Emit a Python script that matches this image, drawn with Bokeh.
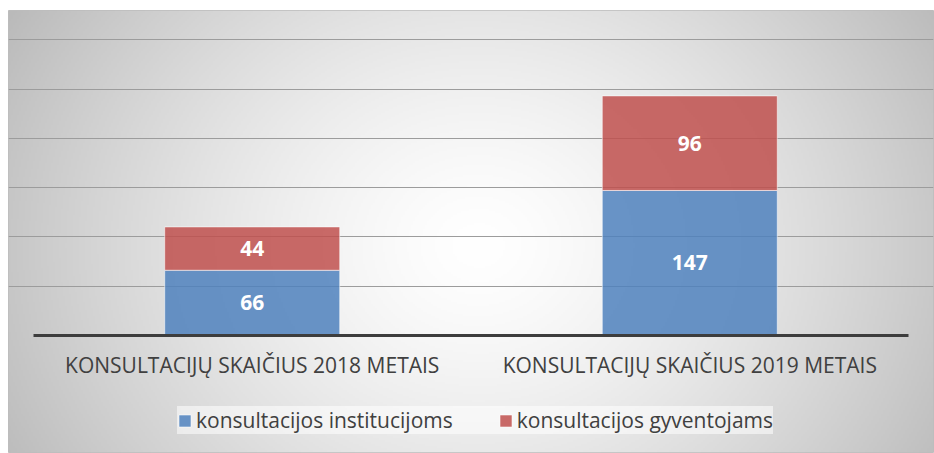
import numpy as np
from bokeh.plotting import figure
from bokeh.models import (FactorRange, Range1d, FixedTicker, Legend, LegendItem,
                          ColumnDataSource, CategoricalAxis, Grid)
from bokeh.core.properties import value
from bokeh.embed import file_html
from bokeh.resources import INLINE

# ---- data ----
categories = ["KONSULTACIJŲ SKAIČIUS 2018 METAIS", "KONSULTACIJŲ SKAIČIUS 2019 METAIS"]
institucijoms = [66, 147]
gyventojams = [44, 96]
series_names = ["konsultacijos institucijoms", "konsultacijos gyventojams"]
y_ticks = [50, 100, 150, 200, 250, 300]

BLUE = "#4F81BD"
RED = "#C0504D"
FONT = "Open Sans"

W, H = 934, 453
BL, BT, BR, BB = 8, 10, 1, 1          # white page margins around the chart box
Y0, Y1 = -119.0, 329.7
PAD = 0.057

p = figure(width=W, height=H,
           x_range=FactorRange(factors=categories, range_padding=PAD,
                               range_padding_units="absolute"),
           y_range=Range1d(Y0, Y1),
           x_axis_location=None, y_axis_location=None,
           output_backend="svg", toolbar_location=None,
           min_border_left=BL, min_border_top=BT,
           min_border_right=BR, min_border_bottom=BB,
           border_fill_color="white",
           background_fill_color="#e6e6e6",
           outline_line_color="#bdbdbd")
p.xgrid.visible = False
p.ygrid.visible = False

# ---- radial grey background (style only) ----
FW, FH = W - BL - BR, H - BT - BB
ny, nx = FH // 2, FW // 2
xs = (np.arange(nx) + 0.5) / nx * FW + BL
ys = ((np.arange(ny) + 0.5) / ny * FH + BT)[::-1]  # row 0 is bottom
X, Y = np.meshgrid(xs, ys)
dx = (X - 478) / 468
dy = (Y - 245) / 400
r2 = dx ** 2 + dy ** 2
v = 255 - 56 * r2 ** 0.7
v = np.clip(v, 185, 255).astype(np.uint32)
img = ((255 << 24) | (v << 16) | (v << 8) | v).astype(np.uint32)
p.image_rgba(image=[img], x=-PAD, y=Y0, dw=2 + 2 * PAD, dh=Y1 - Y0, level="image")

# ---- grid ----
grid = Grid(dimension=1, ticker=FixedTicker(ticks=y_ticks),
            grid_line_color="#9c9c9c", grid_line_width=1.2)
p.add_layout(grid)

# ---- bars ----
src = ColumnDataSource(dict(
    cat=categories,
    inst=institucijoms,
    gyv=gyventojams,
    inst_mid=[a / 2 for a in institucijoms],
    gyv_mid=[a + b / 2 for a, b in zip(institucijoms, gyventojams)],
    inst_lbl=[str(a) for a in institucijoms],
    gyv_lbl=[str(b) for b in gyventojams],
))
rs = p.vbar_stack(["inst", "gyv"], x="cat", width=0.4, source=src,
                  fill_color=[BLUE, RED], fill_alpha=0.85,
                  line_color="white", line_alpha=0.55, line_width=1)

for col, lbl in (("inst_mid", "inst_lbl"), ("gyv_mid", "gyv_lbl")):
    p.text(x="cat", y=col, text=lbl, source=src, text_align="center",
           text_baseline="middle", text_color="white",
           text_font=value(FONT), text_font_style="bold",
           text_font_size="21px")

# ---- category axis at y=0 ----
ax = CategoricalAxis(fixed_location=0, bounds=(0, 2),
                     axis_line_color="#3d3d3d", axis_line_width=3,
                     major_tick_line_color=None, minor_tick_line_color=None,
                     major_label_text_font=FONT,
                     major_label_text_font_size="21px",
                     major_label_text_color="#404040",
                     major_label_standoff=10)
p.add_layout(ax, "below")

# ---- legend ----
legend = Legend(items=[LegendItem(label=series_names[0], renderers=[rs[0]]),
                       LegendItem(label=series_names[1], renderers=[rs[1]])],
                orientation="horizontal", location=(169, 18),
                background_fill_color="white", background_fill_alpha=0.55,
                border_line_color=None,
                label_text_font=FONT, label_text_font_size="21px",
                label_text_color="#404040",
                glyph_width=15, glyph_height=15, label_standoff=4,
                spacing=45, padding=13, margin=0)
p.add_layout(legend)

open("out.html", "w").write(file_html(p, INLINE))
